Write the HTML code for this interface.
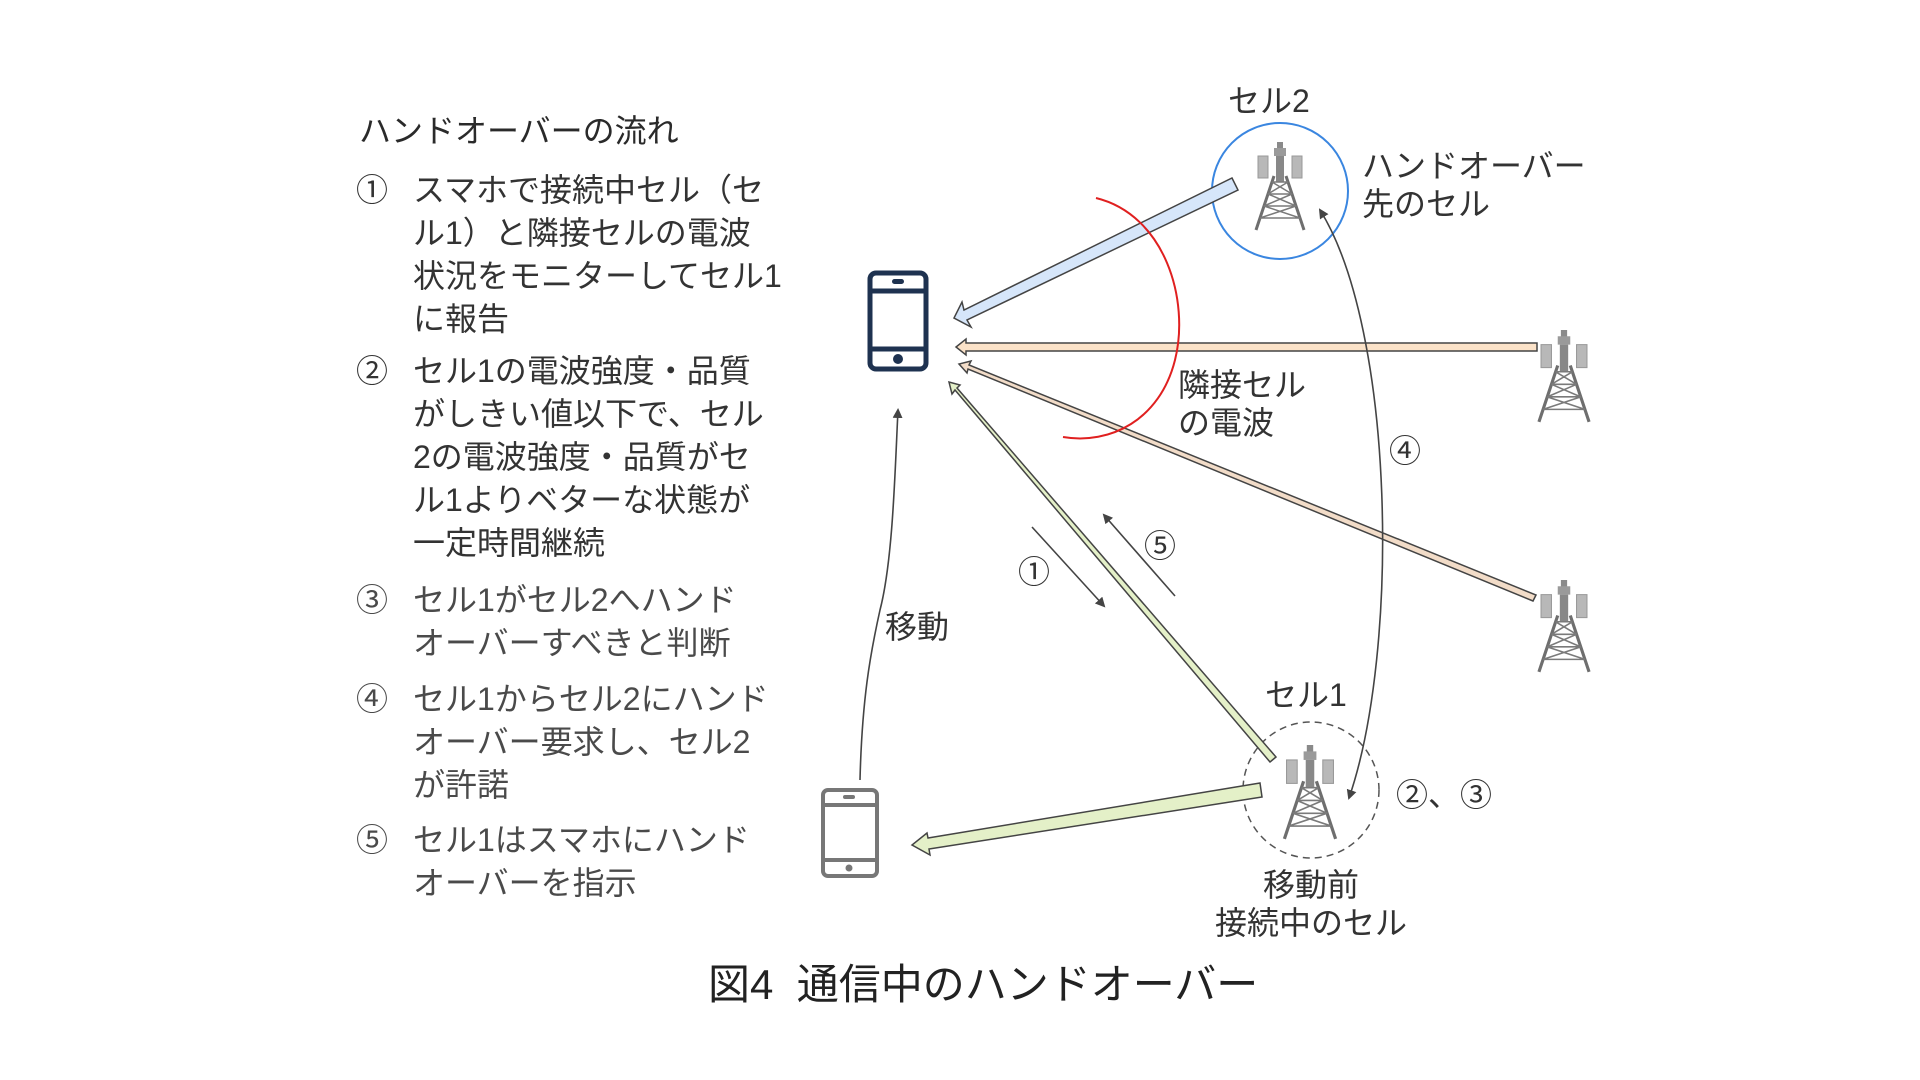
<!DOCTYPE html>
<html><head><meta charset="utf-8"><style>
body{margin:0;width:1920px;height:1080px;background:#fff;overflow:hidden;position:relative;font-family:"Liberation Sans","Noto Sans CJK JP",sans-serif;}
.t{position:absolute;white-space:nowrap;font-size:32px;line-height:43px;color:#333;}
.g{color:#4a4a4a;}
</style></head><body>
<svg width="1920" height="1080" style="position:absolute;left:0;top:0">
<defs>
<symbol id="tw" viewBox="0 0 60 90">
 <rect x="27" y="0" width="6" height="10" fill="#8a8a8a"/>
 <rect x="24" y="6" width="12" height="8" fill="#9a9a9a"/>
 <rect x="8" y="14" width="10" height="22" fill="#b8b8b8" stroke="#999"/>
 <rect x="42" y="14" width="10" height="22" fill="#b8b8b8" stroke="#999"/>
 <rect x="26" y="14" width="8" height="26" fill="#888"/>
 <g stroke="#6e6e6e" stroke-width="3" fill="none">
  <path d="M24 34 L6 88 M36 34 L54 88"/>
 </g>
 <g stroke="#7a7a7a" stroke-width="1.5" fill="none">
  <path d="M22 40 H38 M18 52 H42 M14 64 H46 M10 76 H50 M22 40 L42 52 M38 40 L18 52 M18 52 L46 64 M42 52 L14 64 M14 64 L50 76 M46 64 L10 76"/>
 </g>
</symbol>
<marker id="ah" markerWidth="10" markerHeight="10" refX="8" refY="5" orient="auto-start-reverse" markerUnits="userSpaceOnUse"><path d="M0,0 L10,5 L0,10 z" fill="#444"/></marker>
</defs>
<circle cx="1280" cy="191" r="68" fill="none" stroke="#3a86e0" stroke-width="2"/>
<circle cx="1311" cy="790" r="68" fill="none" stroke="#555" stroke-width="1.5" stroke-dasharray="7,5"/>
<use href="#tw" x="1250" y="142" width="60" height="90"/>
<use href="#tw" x="1530" y="330" width="68" height="94"/>
<use href="#tw" x="1530" y="580" width="68" height="94"/>
<use href="#tw" x="1278" y="745" width="64" height="96"/>
<g stroke="#444" stroke-width="1.5" stroke-linejoin="miter">
<polygon points="1232,178 1238,190 967,320 971,327 954,318 962,302 964,310" fill="#d6e6fa"/>
<polygon points="1537,343 1537,351 966,351 966,355 956,347 966,339 966,343" fill="#fbe2c8"/>
<polygon points="1536,595 1533,601 968,369 967,373 959,364 971,361 969,365" fill="#f2dcc8"/>
<polygon points="1276,757 1270,762 955,390 952,394 949,382 960,385 957,388" fill="#e4f0c8"/>
<polygon points="1260,783 1262,797 929,849 930,855 912,845 927,833 928,838" fill="#e4f0c8"/>
</g>
<path d="M1096,198 C1165,215 1190,300 1175,360 C1160,420 1110,445 1063,437" fill="none" stroke="#e02020" stroke-width="2"/>
<g stroke="#444" stroke-width="1.6" fill="none">
<line x1="1032" y1="527" x2="1104" y2="606" marker-end="url(#ah)"/>
<line x1="1175" y1="596" x2="1104" y2="515" marker-end="url(#ah)"/>
<path d="M1349,798 C1400,650 1395,330 1320,210" marker-end="url(#ah)" marker-start="url(#ah)"/>
<path d="M860,780 C862,700 870,655 880,610 C893,560 895,470 898,410" marker-end="url(#ah)"/>
</g>
<g fill="none" stroke="#1e3250" stroke-width="5">
<rect x="870" y="273" width="56" height="96" rx="6"/>
<line x1="870" y1="291" x2="926" y2="291"/><line x1="870" y1="349" x2="926" y2="349"/>
</g>
<rect x="892" y="279" width="12" height="5" rx="2.5" fill="#1e3250"/>
<circle cx="898" cy="359" r="5" fill="#1e3250"/>
<g fill="none" stroke="#777" stroke-width="4">
<rect x="823" y="790" width="54" height="86" rx="5"/>
<line x1="823" y1="805" x2="877" y2="805"/><line x1="823" y1="860" x2="877" y2="860"/>
</g>
<rect x="843" y="795" width="12" height="4" rx="2" fill="#777"/>
<circle cx="849" cy="868" r="3.5" fill="#777"/>
</svg>

<div class="t" style="left:359px;top:110px;color:#2a2a2a">ハンドオーバーの流れ</div>
<div class="t" style="left:356px;top:169px">①</div>
<div class="t" style="left:413px;top:169px">スマホで接続中セル（セ<br>ル1）と隣接セルの電波<br>状況をモニターしてセル1<br>に報告</div>
<div class="t" style="left:356px;top:350px">②</div>
<div class="t" style="left:413px;top:350px">セル1の電波強度・品質<br>がしきい値以下で、セル<br>2の電波強度・品質がセ<br>ル1よりベターな状態が<br>一定時間継続</div>
<div class="t g" style="left:356px;top:579px">③</div>
<div class="t g" style="left:413px;top:579px">セル1がセル2へハンド<br>オーバーすべきと判断</div>
<div class="t g" style="left:356px;top:678px">④</div>
<div class="t g" style="left:413px;top:678px">セル1からセル2にハンド<br>オーバー要求し、セル2<br>が許諾</div>
<div class="t g" style="left:356px;top:819px">⑤</div>
<div class="t g" style="left:413px;top:819px">セル1はスマホにハンド<br>オーバーを指示</div>

<div class="t" style="left:1228px;top:80px">セル2</div>
<div class="t" style="left:1362px;top:147px;line-height:38px">ハンドオーバー<br>先のセル</div>
<div class="t" style="left:1178px;top:366px;line-height:38px">隣接セル<br>の電波</div>
<div class="t" style="left:1389px;top:430px">④</div>
<div class="t" style="left:1144px;top:525px">⑤</div>
<div class="t" style="left:1018px;top:551px">①</div>
<div class="t" style="left:885px;top:606px">移動</div>
<div class="t" style="left:1265px;top:674px">セル1</div>
<div class="t" style="left:1396px;top:774px">②、③</div>
<div class="t" style="left:1201px;top:866px;line-height:38px;text-align:center;width:220px">移動前<br>接続中のセル</div>
<div class="t" style="left:708px;top:960px;font-size:42px;line-height:50px;color:#222">図4&nbsp;&nbsp;通信中のハンドオーバー</div>
</body></html>
